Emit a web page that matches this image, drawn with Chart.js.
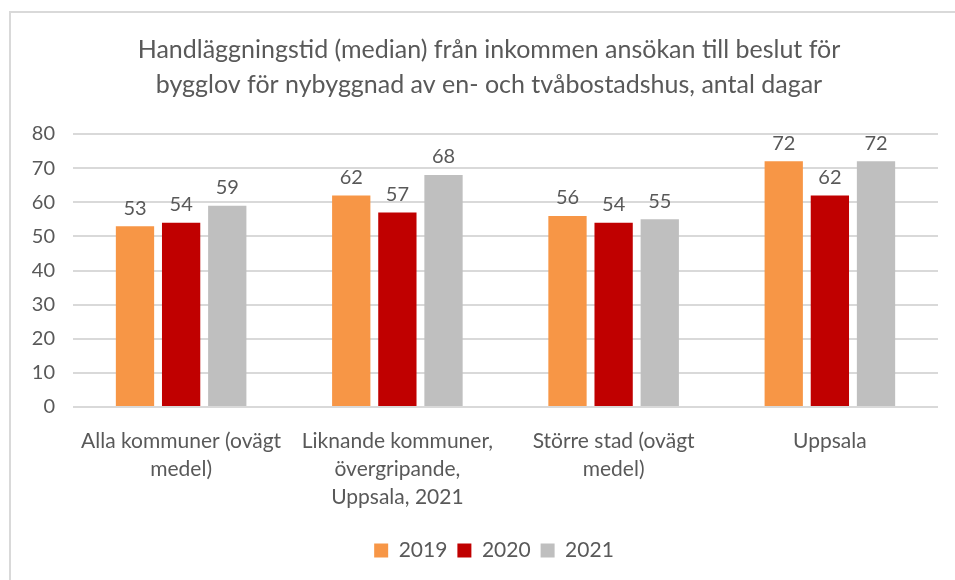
<!DOCTYPE html>
<html>
<head>
<meta charset="utf-8">
<script src="https://cdn.jsdelivr.net/npm/chart.js@4"></script>
<style>
  body { margin: 0; background: #fff; }
  #wrap { position: relative; width: 955px; height: 580px; }
  #frame { position: absolute; left: 9px; top: 11px; width: 960px; height: 600px;
           border-left: 2px solid #d9d9d9; border-top: 2px solid #d9d9d9; }
  canvas { position: absolute; left: 0; top: 0; }
</style>
</head>
<body>
<div id="wrap">
  <div id="frame"></div>
  <canvas id="chart" width="955" height="580"></canvas>
</div>
<script>
const categories = [
    ['Alla kommuner (ovägt', 'medel)'],
    ['Liknande kommuner,', 'övergripande,', 'Uppsala, 2021'],
    ['Större stad (ovägt', 'medel)'],
    ['Uppsala']
];
const years = ['2019', '2020', '2021'];
const values2019 = [53, 62, 56, 72];
const values2020 = [54, 57, 54, 62];
const values2021 = [59, 68, 55, 72];
const yTicks = [0, 10, 20, 30, 40, 50, 60, 70, 80];

const textColor = '#595959';
const fontFamily = 'Lato, "Open Sans", sans-serif';

// value labels above each bar
const barLabels = {
    id: 'barLabels',
    afterDatasetsDraw(chart) {
        const ctx = chart.ctx;
        ctx.save();
        ctx.font = '20px ' + fontFamily;
        ctx.fillStyle = textColor;
        ctx.textAlign = 'center';
        ctx.textBaseline = 'bottom';
        chart.data.datasets.forEach((ds, i) => {
            chart.getDatasetMeta(i).data.forEach((bar, j) => {
                ctx.fillText(ds.data[j], bar.x, bar.y - 8);
            });
        });
        ctx.restore();
    }
};

// title and legend sit a bit right of the plot centre in the original
const nudge = {
    id: 'nudge',
    afterLayout(chart) {
        if (chart.titleBlock) { chart.titleBlock.left += 20; chart.titleBlock.right += 20; }
        if (chart.legend) { chart.legend.left += 25; chart.legend.right += 25; }
    }
};

const ctx = document.getElementById('chart').getContext('2d');
const chart = new Chart(ctx, {
    type: 'bar',
    data: {
        labels: categories,
        datasets: [
            { label: years[0], data: values2019, backgroundColor: '#f79646' },
            { label: years[1], data: values2020, backgroundColor: '#c00000' },
            { label: years[2], data: values2021, backgroundColor: '#bfbfbf' }
        ]
    },
    options: {
        responsive: false,
        animation: false,
        layout: { padding: { left: 0, right: 17, top: 32, bottom: 9 } },
        datasets: {
            bar: { categoryPercentage: 0.64, barPercentage: 0.83 }
        },
        plugins: {
            title: {
                display: true,
                text: ['Handläggningstid (median) från inkommen ansökan till beslut för',
                       'bygglov för nybyggnad av en- och tvåbostadshus, antal dagar'],
                color: textColor,
                font: { family: fontFamily, size: 25, weight: 'normal', lineHeight: 1.4 },
                padding: { top: 0, bottom: 32 }
            },
            legend: {
                position: 'bottom',
                labels: {
                    color: textColor,
                    font: { family: fontFamily, size: 21 },
                    boxWidth: 14,
                    boxHeight: 14,
                    padding: 10
                }
            },
            tooltip: { enabled: false }
        },
        scales: {
            x: {
                grid: { display: false },
                border: { display: false },
                afterFit(axis) { axis.height = 123; },
                ticks: {
                    color: textColor,
                    font: { family: fontFamily, size: 21, lineHeight: 1.33 },
                    maxRotation: 0,
                    autoSkip: false,
                    padding: 12
                }
            },
            y: {
                min: yTicks[0],
                max: yTicks[yTicks.length - 1],
                grid: { color: '#d9d9d9', lineWidth: 2, drawTicks: false },
                border: { display: false },
                afterFit(axis) { axis.width = 73; },
                afterBuildTicks(axis) {
                    axis.ticks = yTicks.map(v => ({ value: v }));
                },
                ticks: {
                    color: textColor,
                    font: { family: fontFamily, size: 20 },
                    padding: 18
                }
            }
        }
    },
    plugins: [barLabels, nudge]
});
</script>
</body>
</html>
